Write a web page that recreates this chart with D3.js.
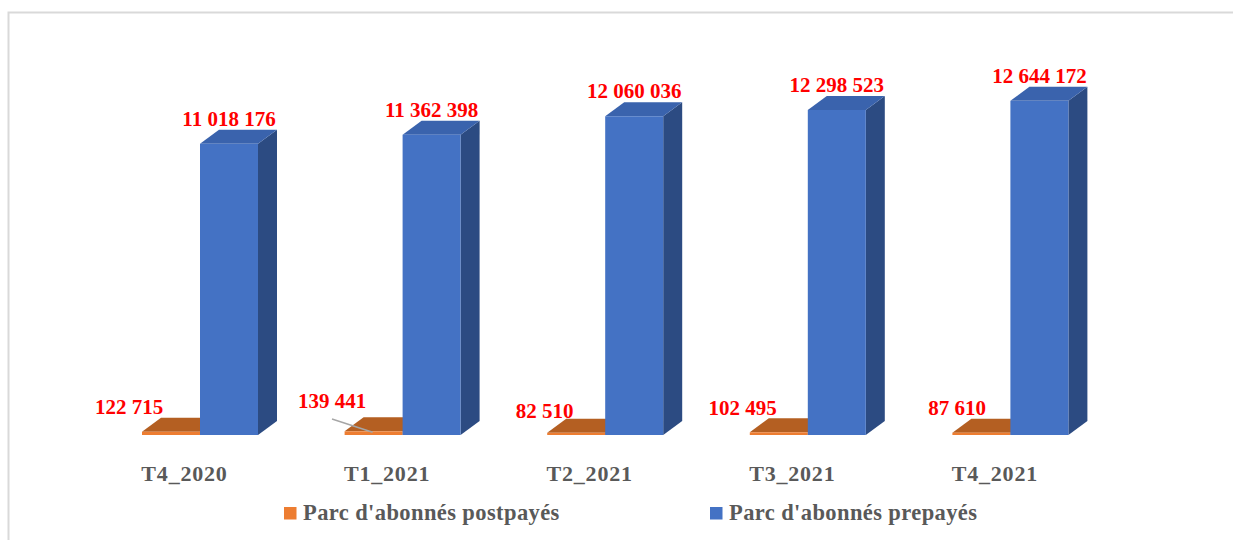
<!DOCTYPE html>
<html>
<head>
<meta charset="utf-8">
<script src="https://cdn.jsdelivr.net/npm/d3@7"></script>
<style>
  html, body { margin: 0; padding: 0; background: #ffffff; }
  svg { display: block; }
</style>
</head>
<body>
<svg id="chart" width="1233" height="540"></svg>
<script>
// ---- data ----
const categories = ["T4_2020", "T1_2021", "T2_2021", "T3_2021", "T4_2021"];
const seriesNames = ["Parc d'abonnés postpayés", "Parc d'abonnés prepayés"];
const postpaid = [122715, 139441, 82510, 102495, 87610];
const prepaid = [11018176, 11362398, 12060036, 12298523, 12644172];
const postpaidLabels = ["122 715", "139 441", "82 510", "102 495", "87 610"];
const prepaidLabels = ["11 018 176", "11 362 398", "12 060 036", "12 298 523", "12 644 172"];

// ---- layout (not data) ----
const W = 1233, H = 540;
const floorY = 435;
const depthX = 19, depthY = -14;
const barW = 58;
const postLabelDx = [-42, -41.6, -31.7, -36.3, -24.4];
const postLabelY = [413.6, 408, 418, 415, 415];

const svg = d3.select("#chart");
const font = "'Liberation Serif', 'DejaVu Serif', serif";

// border
svg.append("path")
  .attr("d", `M8.5,${H} L8.5,12.5 L${W},12.5`)
  .attr("fill", "none").attr("stroke", "#d9d9d9").attr("stroke-width", 2);

const x = d3.scaleBand().domain(categories).range([98.7, 1111.7]).padding(0);
const inner = d3.scaleBand().domain(seriesNames)
  .range([(x.bandwidth() - 2 * barW) / 2, (x.bandwidth() - 2 * barW) / 2 + 2 * barW]).padding(0);
const y = d3.scaleLinear().domain([0, 14000000]).range([floorY, 65]);

const colors = {
  [seriesNames[0]]: { front: "#ED7D31", top: "#B45F22", side: "#9c521d" },
  [seriesNames[1]]: { front: "#4472C4", top: "#3A63AD", side: "#2C4B82" }
};

const seriesData = [
  { name: seriesNames[0], values: postpaid },
  { name: seriesNames[1], values: prepaid }
];

const g = svg.append("g");

categories.forEach((c, i) => {
  seriesData.forEach(s => {
    const v = s.values[i];
    const x0 = x(c) + inner(s.name);
    const w = inner.bandwidth();
    const yt = y(v);
    const col = colors[s.name];
    // side
    g.append("path")
      .attr("d", `M${x0 + w},${yt} L${x0 + w + depthX},${yt + depthY} L${x0 + w + depthX},${floorY + depthY} L${x0 + w},${floorY} Z`)
      .attr("fill", col.side);
    // top
    g.append("path")
      .attr("d", `M${x0},${yt} L${x0 + depthX},${yt + depthY} L${x0 + w + depthX},${yt + depthY} L${x0 + w},${yt} Z`)
      .attr("fill", col.top);
    // front
    g.append("rect")
      .attr("x", x0).attr("y", yt)
      .attr("width", w).attr("height", floorY - yt)
      .attr("fill", col.front);
  });
});

// prepaid value labels
categories.forEach((c, i) => {
  const cx = x(c) + inner(seriesNames[1]) + inner.bandwidth() / 2;
  svg.append("text")
    .attr("x", cx)
    .attr("y", y(prepaid[i]) + depthY - 4)
    .attr("text-anchor", "middle")
    .attr("font-family", font).attr("font-weight", "bold").attr("font-size", 21)
    .attr("fill", "#FF0000")
    .text(prepaidLabels[i]);
});

// postpaid value labels
categories.forEach((c, i) => {
  const cx = x(c) + inner(seriesNames[0]) + inner.bandwidth() / 2;
  const lx = cx + postLabelDx[i];
  const ly = postLabelY[i];
  if (i === 1) {
    svg.append("line")
      .attr("x1", lx).attr("y1", ly + 11)
      .attr("x2", cx - 1).attr("y2", y(postpaid[i]) + 1)
      .attr("stroke", "#A6A6A6").attr("stroke-width", 1.5);
  }
  svg.append("text")
    .attr("x", lx).attr("y", ly)
    .attr("text-anchor", "middle")
    .attr("font-family", font).attr("font-weight", "bold").attr("font-size", 21)
    .attr("fill", "#FF0000")
    .text(postpaidLabels[i]);
});

// category labels
categories.forEach(c => {
  svg.append("text")
    .attr("x", x(c) + x.bandwidth() / 2 - 15.5)
    .attr("y", 481)
    .attr("text-anchor", "middle")
    .attr("font-family", font).attr("font-weight", "bold").attr("font-size", 22)
    .attr("letter-spacing", "0.8px")
    .attr("fill", "#595959")
    .text(c);
});

// legend
const legendX = [284, 710];
seriesNames.forEach((n, i) => {
  const lg = svg.append("g").attr("transform", `translate(${legendX[i]},0)`);
  lg.append("rect").attr("x", 0).attr("y", 507).attr("width", 12.5).attr("height", 12.5)
    .attr("fill", colors[n].front);
  lg.append("text").attr("x", 19).attr("y", 520)
    .attr("font-family", font).attr("font-weight", "bold").attr("font-size", 22.5)
    .attr("letter-spacing", "0.4px")
    .attr("fill", "#595959")
    .text(n);
});
</script>
</body>
</html>
